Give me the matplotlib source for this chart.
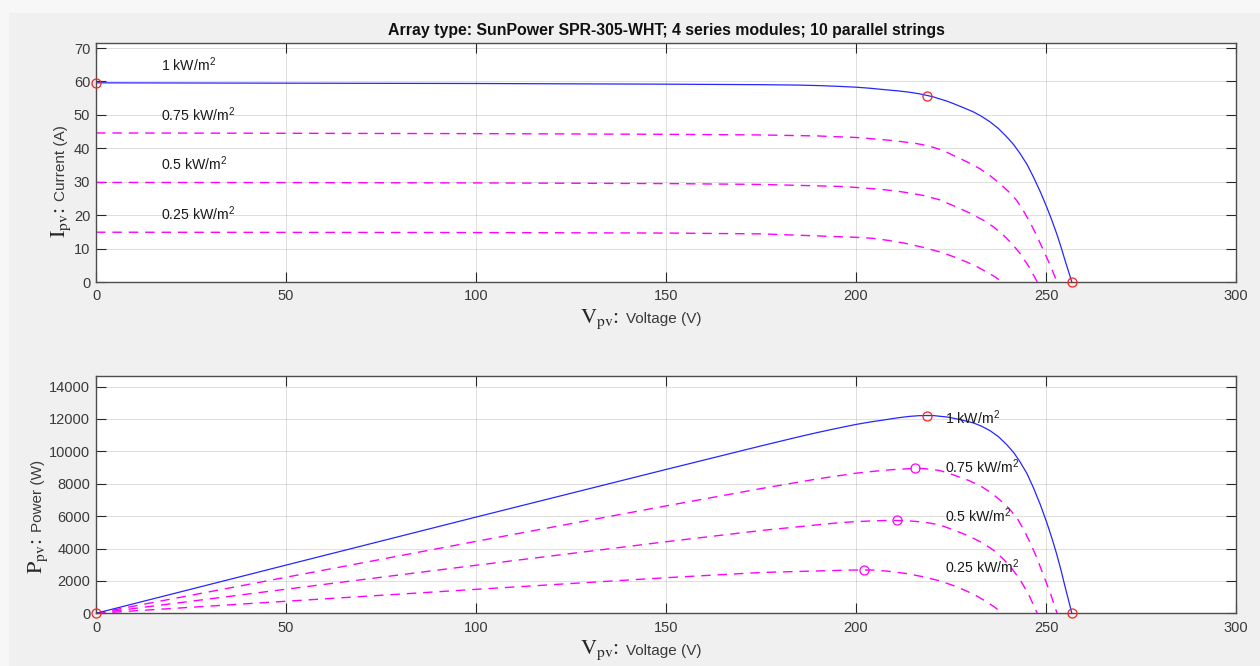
import numpy as np
import matplotlib
matplotlib.use("Agg")
import matplotlib.pyplot as plt
from matplotlib.patches import Rectangle

plt.rcParams["font.family"] = ["Liberation Sans", "DejaVu Sans"]
plt.rcParams["mathtext.fontset"] = "custom"
plt.rcParams["mathtext.rm"] = "Liberation Sans"
plt.rcParams["mathtext.it"] = "Liberation Sans:italic"
plt.rcParams["mathtext.bf"] = "Liberation Sans:bold"
plt.rcParams["lines.scale_dashes"] = False

# ---- I-V characteristics of the PV array at four irradiance levels ----
irradiance_labels = ["1 kW/m$^{\\mathrm{2}}$", "0.75 kW/m$^{\\mathrm{2}}$",
                     "0.5 kW/m$^{\\mathrm{2}}$", "0.25 kW/m$^{\\mathrm{2}}$"]

v_1000 = [0, 50, 100, 150, 175, 185, 190, 195, 200, 204, 208, 211, 214, 216.5,
          218.8, 220.5, 222, 224, 225.6, 228, 230.9, 233, 235.3, 237.5, 239.7,
          241.5, 243.2, 245, 246.7, 248.5, 250.2, 251.5, 252.8, 254, 255, 256, 256.8]
i_1000 = [59.6, 59.5, 59.4, 59.2, 59.05, 58.92, 58.78, 58.57, 58.3, 57.95, 57.5, 57.2,
          56.8, 56.35, 55.8, 55.35, 54.8, 54.1, 53.4, 52.3, 50.9, 49.6, 47.9, 45.9,
          43.4, 41.1, 38.4, 35.2, 31.4, 27.0, 22.4, 18.6, 14.5, 10.3, 6.5, 2.9, 0]

v_750 = [0, 50, 100, 150, 175, 190, 200, 204.5, 208.9, 212, 215.5, 217.7, 220, 222,
         224.3, 226.5, 229.5, 232.6, 235.3, 237.9, 240.2, 242.3, 244.1, 245.8, 247.6,
         249.3, 251.2, 252.9]
i_750 = [44.6, 44.5, 44.4, 44.2, 44.0, 43.7, 43.25, 42.85, 42.4, 42.0, 41.5, 41.05,
         40.4, 39.7, 38.6, 37.4, 35.8, 33.9, 31.8, 29.4, 27.0, 24.4, 21.2, 17.8, 13.8,
         9.5, 4.8, 0]

v_500 = [0, 50, 100, 150, 175, 195.8, 200, 204.6, 207.5, 210.7, 214, 217.7, 222,
         226.5, 230, 233.5, 236.3, 238.8, 241, 243.2, 245.5, 247.7]
i_500 = [29.8, 29.75, 29.65, 29.45, 29.2, 28.6, 28.3, 27.9, 27.6, 27.2, 26.65, 25.9,
         24.6, 22.4, 20.6, 18.5, 16.4, 14.0, 11.5, 8.5, 4.6, 0]

v_250 = [0, 50, 100, 150, 175, 195.8, 199, 202, 204.6, 208.8, 213.3, 217.7, 222.1,
         225.6, 229.1, 231.8, 234.4, 236.5, 238.5]
i_250 = [14.9, 14.85, 14.8, 14.65, 14.4, 13.55, 13.42, 13.25, 13.05, 12.4, 11.5,
         10.35, 9.0, 7.6, 6.0, 4.6, 3.0, 1.6, 0]

title = "Array type: SunPower SPR-305-WHT; 4 series modules; 10 parallel strings"

# label anchors (data coordinates)
iv_label_v = 17.2
iv_label_i = [63.0, 48.2, 33.4, 18.5]
pv_label_v = 223.3
pv_label_p = [11700, 8680, 5640, 2500]

curves_v = [np.array(v_1000), np.array(v_750), np.array(v_500), np.array(v_250)]
curves_i = [np.array(i_1000), np.array(i_750), np.array(i_500), np.array(i_250)]
curves_p = [v * i for v, i in zip(curves_v, curves_i)]

W, H = 1260, 666
fig = plt.figure(figsize=(W / 100, H / 100), dpi=100)
fig.patch.set_facecolor("#f7f7f7")
fig.add_artist(Rectangle((9 / W, 0), 1, 1 - 13 / H, transform=fig.transFigure,
                         facecolor="#f0f0f0", edgecolor="none", zorder=-10))


def fx(x):
    return x / W


def fy(y):
    return 1 - y / H


ax1 = fig.add_axes([fx(96), fy(282), 1140 / W, 239 / H])
ax2 = fig.add_axes([fx(96), fy(613.3), 1140 / W, 237.3 / H])

blue = "#2626ff"
magenta = "#ff00ff"
red = "#ff2020"
dash = (0, (6.8, 5.0))

for ax in (ax1, ax2):
    ax.set_facecolor("white")
    ax.set_xlim(0, 300)
    ax.set_xticks(np.arange(0, 301, 50))
    ax.grid(True, color="#262626", alpha=0.15, lw=0.7)
    ax.set_axisbelow(True)
    ax.tick_params(direction="in", length=7.5, width=0.8, color="#262626",
                   labelsize=10.5, labelcolor="#3a3a3a", top=True, right=True)
    ax.tick_params(axis="x", pad=5.2)
    ax.tick_params(axis="y", pad=4.2)
    for s in ax.spines.values():
        s.set_color("#4d4d4d")
        s.set_linewidth(1.0)

# I-V plot
for k in range(1, 4):
    ax1.plot(curves_v[k], curves_i[k], color=magenta, lw=1.0, linestyle=dash)
ax1.plot(curves_v[0], curves_i[0], color=blue, lw=0.9)
k_mp = int(np.argmax(curves_p[0]))
ax1.plot([curves_v[0][0], curves_v[0][k_mp], curves_v[0][-1]],
         [curves_i[0][0], curves_i[0][k_mp], curves_i[0][-1]],
         "o", mfc="none", mec=red, ms=6.5, mew=0.9, clip_on=False, zorder=5)
ax1.set_ylim(0, 1.2 * curves_i[0][0])
ax1.set_yticks(np.arange(0, 71, 10))
for lab, yi in zip(irradiance_labels, iv_label_i):
    ax1.text(iv_label_v, yi, lab, fontsize=10.2, color="#1a1a1a", va="baseline")

# P-V plot
for k in range(1, 4):
    ax2.plot(curves_v[k], curves_p[k], color=magenta, lw=1.0, linestyle=dash)
ax2.plot(curves_v[0], curves_p[0], color=blue, lw=0.9)
ax2.plot([curves_v[0][0], curves_v[0][k_mp], curves_v[0][-1]],
         [0, curves_p[0][k_mp], 0],
         "o", mfc="none", mec=red, ms=6.5, mew=0.9, clip_on=False, zorder=5)
for k in range(1, 4):
    m = int(np.argmax(curves_p[k]))
    ax2.plot(curves_v[k][m], curves_p[k][m], "o", mfc="none", mec=magenta,
             ms=6.5, mew=0.9, zorder=5)
ax2.set_ylim(0, 1.2 * curves_p[0].max())
ax2.set_yticks(np.arange(0, 14001, 2000))
for lab, yp in zip(irradiance_labels, pv_label_p):
    ax2.text(pv_label_v, yp, lab, fontsize=10.2, color="#1a1a1a", va="baseline")

# title
fig.text(fx(666), fy(35), title, ha="center", va="baseline", fontsize=11.4,
         fontweight="bold", color="#111111")

# axis labels: serif symbol with subscript followed by sans description
lab_color = "#262626"


def xlabel(y_base, sym, desc):
    fig.text(fx(619.5), fy(y_base), sym, ha="right", va="baseline", fontsize=16,
             family="STIXGeneral", math_fontfamily="stix", color=lab_color)
    fig.text(fx(626), fy(y_base), desc, ha="left", va="baseline", fontsize=11,
             color="#3a3a3a")


def ylabel(x_base, y_join, sym, desc):
    fig.text(fx(x_base), fy(y_join + 2), sym, ha="right", va="baseline", fontsize=16,
             family="STIXGeneral", math_fontfamily="stix", color=lab_color,
             rotation=90, rotation_mode="anchor")
    fig.text(fx(x_base), fy(y_join - 4.5), desc, ha="left", va="baseline", fontsize=11,
             color="#3a3a3a", rotation=90, rotation_mode="anchor")


xlabel(322.5, r"$\mathrm{V}_{\mathrm{pv}}$:", "Voltage (V)")
xlabel(654.5, r"$\mathrm{V}_{\mathrm{pv}}$:", "Voltage (V)")
ylabel(65, 205, r"$\mathrm{I}_{\mathrm{pv}}$:", "Current (A)")
ylabel(42, 536, r"$\mathrm{P}_{\mathrm{pv}}$:", "Power (W)")

fig.savefig("out.png", dpi=100, facecolor=fig.get_facecolor())
